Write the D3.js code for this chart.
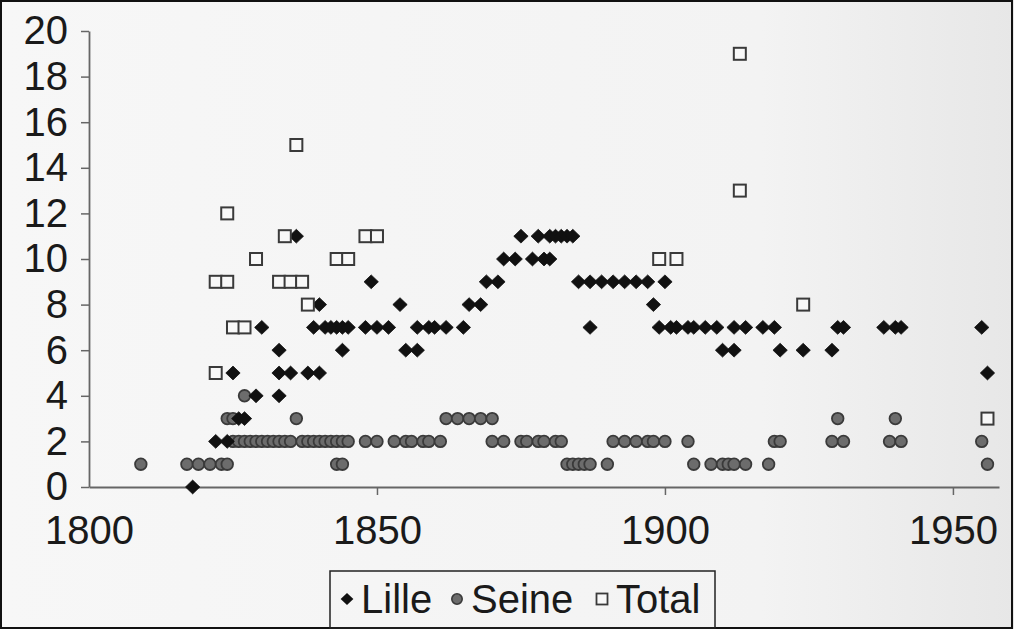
<!DOCTYPE html>
<html>
<head>
<meta charset="utf-8">
<script src="https://cdn.jsdelivr.net/npm/d3@7"></script>
<style>
  html, body { margin: 0; padding: 0; background: #f4f4f4; }
  svg { display: block; }
  text { font-family: "Liberation Sans", Arial, sans-serif; fill: #1a1a1a; }
</style>
</head>
<body>
<svg id="chart" width="1014" height="629"></svg>
<script>
// ---- data (year, value) ----
const lille = [
  [1818,0],
  [1822,2],[1824,2],
  [1826,3],[1827,3],
  [1829,4],[1833,4],
  [1825,5],[1833,5],[1835,5],[1838,5],[1840,5],
  [1833,6],[1844,6],[1855,6],[1857,6],
  [1830,7],[1839,7],[1841,7],[1842,7],[1843,7],[1844,7],[1845,7],[1848,7],[1850,7],[1852,7],
  [1857,7],[1859,7],[1860,7],[1862,7],[1865,7],
  [1840,8],[1854,8],[1866,8],[1868,8],
  [1849,9],[1869,9],[1871,9],
  [1872,10],[1874,10],[1877,10],[1879,10],[1880,10],
  [1836,11],[1875,11],[1878,11],[1880,11],[1881,11],[1882,11],[1883,11],[1884,11],
  [1885,9],[1887,9],[1889,9],[1891,9],[1893,9],[1895,9],[1897,9],[1900,9],
  [1887,7],[1898,8],
  [1899,7],[1901,7],[1902,7],[1904,7],[1905,7],[1907,7],[1909,7],[1912,7],[1914,7],[1917,7],[1919,7],
  [1910,6],[1912,6],[1920,6],[1924,6],[1929,6],
  [1930,7],[1931,7],[1938,7],[1940,7],[1941,7],
  [1955,7],[1956,5]
];
const seine = [
  [1809,1],[1817,1],[1819,1],[1821,1],[1823,1],[1824,1],[1843,1],[1844,1],
  [1883,1],[1884,1],[1885,1],[1886,1],[1887,1],[1890,1],
  [1905,1],[1908,1],[1910,1],[1911,1],[1912,1],[1914,1],[1918,1],[1956,1],
  [1825,2],[1826,2],[1827,2],[1828,2],[1829,2],[1830,2],[1831,2],[1832,2],[1833,2],[1834,2],[1835,2],
  [1837,2],[1838,2],[1839,2],[1840,2],[1841,2],[1842,2],[1843,2],[1844,2],[1845,2],
  [1848,2],[1850,2],[1853,2],[1855,2],[1856,2],[1858,2],[1859,2],[1861,2],
  [1870,2],[1872,2],[1875,2],[1876,2],[1878,2],[1879,2],[1881,2],[1882,2],
  [1891,2],[1893,2],[1895,2],[1897,2],[1898,2],[1900,2],[1904,2],
  [1919,2],[1920,2],[1929,2],[1931,2],[1939,2],[1941,2],[1955,2],
  [1824,3],[1825,3],[1836,3],[1862,3],[1864,3],[1866,3],[1868,3],[1870,3],[1930,3],[1940,3],
  [1827,4]
];
const total = [
  [1822,5],[1822,9],[1824,9],[1824,12],[1825,7],[1827,7],[1829,10],
  [1833,9],[1835,9],[1834,11],[1836,15],[1837,9],[1838,8],
  [1843,10],[1845,10],[1848,11],[1850,11],
  [1899,10],[1902,10],[1913,19],[1913,13],[1924,8],[1956,3]
];
const yTicks = [0,2,4,6,8,10,12,14,16,18,20];
const xTicks = [1800,1850,1900,1950];
const legendItems = ["Lille","Seine","Total"];

// ---- drawing ----
const svg = d3.select("#chart");
const W = 1014, H = 629;

const defs = svg.append("defs");
const grad = defs.append("linearGradient").attr("id","bg").attr("x1","0").attr("x2","1").attr("y1","0").attr("y2","0");
grad.append("stop").attr("offset","0").attr("stop-color","#f7f7f7");
grad.append("stop").attr("offset","0.75").attr("stop-color","#f3f3f3");
grad.append("stop").attr("offset","1").attr("stop-color","#e7e7e7");
svg.append("rect").attr("x",0).attr("y",0).attr("width",W).attr("height",H).attr("fill","url(#bg)");
svg.append("rect").attr("x",1).attr("y",1).attr("width",W-3).attr("height",H-2)
  .attr("fill","none").attr("stroke","#111").attr("stroke-width",2);

const x = d3.scaleLinear().domain([1800,1958]).range([89,999]);
const y = d3.scaleLinear().domain([0,20]).range([487,31]);

// y axis
const gy = svg.append("g").attr("transform","translate(89,0)")
  .call(d3.axisLeft(y).tickValues(yTicks).tickSize(8).tickSizeOuter(0).tickPadding(13));
gy.select(".domain").attr("stroke","#666").attr("stroke-width",1.8);
gy.selectAll(".tick line").attr("stroke","#666").attr("stroke-width",1.5);
gy.selectAll(".tick text").style("font-size","40px").style("fill","#1a1a1a");

// x axis
const gx = svg.append("g").attr("transform","translate(0,487)")
  .call(d3.axisBottom(x).tickValues(xTicks).tickFormat(d3.format("d")).tickSize(8).tickSizeOuter(0).tickPadding(21));
gx.select(".domain").attr("stroke","#666").attr("stroke-width",1.8);
gx.selectAll(".tick line").attr("stroke","#666").attr("stroke-width",1.5)
  .attr("opacity", d => d === 1800 ? 0 : 1);
gx.selectAll(".tick text").style("font-size","40px").style("fill","#1a1a1a");

// custom squat diamond
const squatDiamond = {
  draw(ctx, size) {
    const w = Math.sqrt(size) * 0.52, h = Math.sqrt(size) * 0.5;
    ctx.moveTo(0, -h); ctx.lineTo(w, 0); ctx.lineTo(0, h); ctx.lineTo(-w, 0); ctx.closePath();
  }
};
const diamond = d3.symbol().type(squatDiamond).size(190);
const legendDiamond = d3.symbol().type(squatDiamond).size(150);

// markers
svg.append("g").selectAll("circle").data(seine).join("circle")
  .attr("cx", d => x(d[0])).attr("cy", d => y(d[1])).attr("r", 5.8)
  .attr("fill","#6c6c6c").attr("stroke","#3a3a3a").attr("stroke-width",1.8);
svg.append("g").selectAll("path").data(lille).join("path")
  .attr("d", diamond)
  .attr("transform", d => `translate(${x(d[0])},${y(d[1])})`)
  .attr("fill","#111").attr("stroke","#111").attr("stroke-width",0.8);
svg.append("g").selectAll("rect").data(total).join("rect")
  .attr("x", d => x(d[0]) - 6).attr("y", d => y(d[1]) - 6)
  .attr("width",12).attr("height",12)
  .attr("fill","#f8f8f8").attr("stroke","#3a3a3a").attr("stroke-width",2);

// legend
const lg = svg.append("g");
lg.append("rect").attr("x",330).attr("y",571).attr("width",385).attr("height",57)
  .attr("fill","none").attr("stroke","#222").attr("stroke-width",1.5);
const lx = [347, 457, 602];
lg.append("path").attr("d", legendDiamond).attr("transform",`translate(${lx[0]},599)`).attr("fill","#111");
lg.append("circle").attr("cx",lx[1]).attr("cy",599).attr("r",5.2).attr("fill","#6c6c6c").attr("stroke","#3a3a3a").attr("stroke-width",1.6);
lg.append("rect").attr("x",lx[2]-5.5).attr("y",593.5).attr("width",11).attr("height",11).attr("fill","#f8f8f8").attr("stroke","#3a3a3a").attr("stroke-width",1.8);
lg.selectAll("text.lt").data(legendItems).join("text").attr("class","lt")
  .attr("x",(d,i) => lx[i] + 14).attr("y",613)
  .style("font-size","40px")
  .text(d => d);
</script>
</body>
</html>
